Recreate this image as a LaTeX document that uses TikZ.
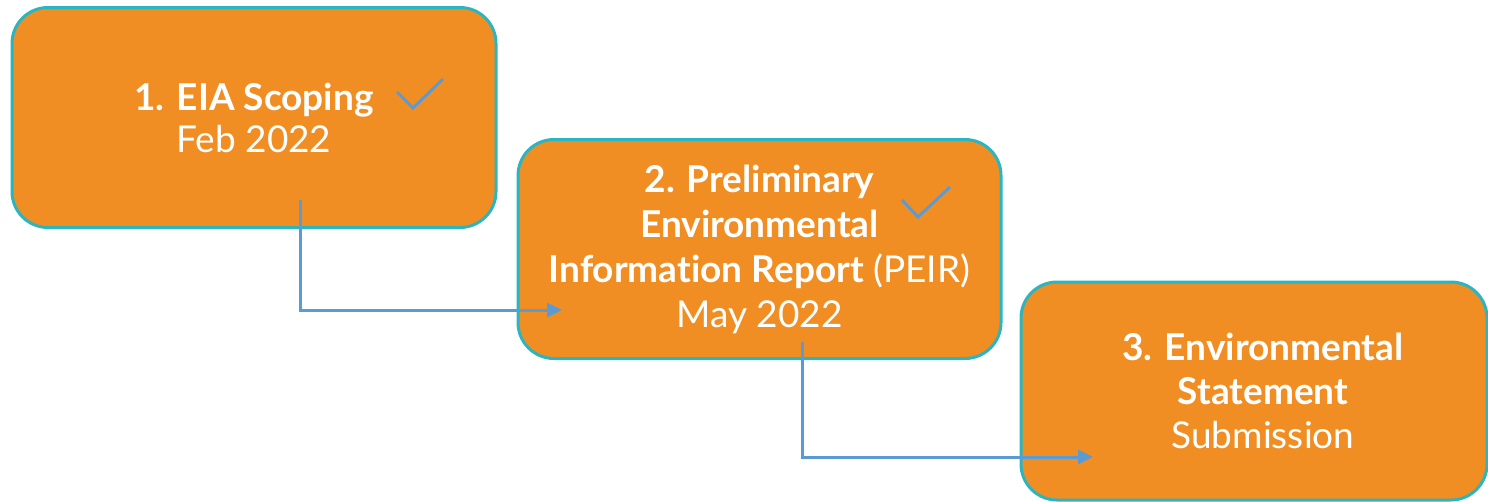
\documentclass[tikz,border=0pt]{standalone}
\usepackage{fontspec}
\setmainfont{Lato}[Ligatures={NoCommon}]
\usetikzlibrary{arrows.meta}
\definecolor{boxorange}{RGB}{240,142,36}
\definecolor{boxteal}{RGB}{43,181,192}
\definecolor{arrowblue}{RGB}{91,155,213}
\tikzset{
  stagebox/.style={rectangle, rounded corners=36pt, fill=boxorange, draw=boxteal,
    line width=3pt, text=white, align=center, inner sep=0pt,
    font=\fontsize{37}{45}\selectfont},
  flowarrow/.style={draw=arrowblue, line width=3pt, -{Triangle[length=15pt,width=14pt]}},
  tick/.style={draw=arrowblue, line width=3pt}
}
\begin{document}
\begin{tikzpicture}[x=1pt,y=-1pt]
\useasboundingbox (0,0) rectangle (1488,501);
\node[stagebox, minimum width=484pt, minimum height=220pt] (b1) at (254,117.5)
  {\textbf{1. EIA Scoping}\\[-3pt]Feb 2022};
\node[stagebox, minimum width=483pt, minimum height=219pt] (b2) at (759.5,249)
  {\textbf{2. Preliminary}\\\textbf{Environmental}\\\textbf{Information Report} (PEIR)\\May 2022};
\node[stagebox, minimum width=466pt, minimum height=218pt] (b3) at (1254,391)
  {\hspace*{18pt}\textbf{3. Environmental}\\[-1pt]\hspace*{18pt}\textbf{Statement}\\[-1pt]\hspace*{18pt}Submission};
\coordinate (s1) at (300,200);
\coordinate (e1) at (562,310);
\coordinate (s2) at (802,342);
\coordinate (e2) at (1093,457);
\draw[flowarrow] (s1) |- (e1);
\draw[flowarrow] (s2) |- (e2);
\draw[tick] (397,92) -- (413,108) -- (443,79);
\draw[tick] (902,200) -- (918,217) -- (950,187);
\end{tikzpicture}
\end{document}
